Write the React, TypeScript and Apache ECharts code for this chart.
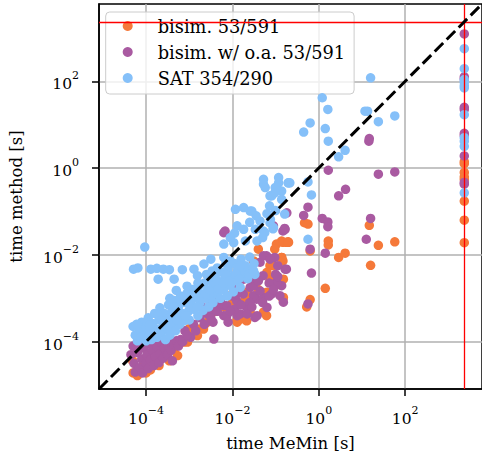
import React, { useEffect, useRef } from "react";
import * as echarts from "echarts";

// All values are log10 of time in seconds.
const AXIS_MIN = -5.09;
const AXIS_MAX = 3.78;
const TIMEOUT = 3.37; // log10 of the timeout (red lines)
const TICKS = [-4, -2, 0, 2];

const SERIES_NAMES = ["bisim. 53/591", "bisim. w/ o.a. 53/591", "SAT 354/290"];
const COLORS = ["#F5793A", "#A95AA1", "#85C0F9"];

// bisim. (orange): [log10 MeMin time, log10 method time]
const bisimPts: number[][] = [
  [-4.3, -4.72], [-4.2, -4.78], [-4.31, -4.44], [-4.15, -4.7], [-4.0, -4.72], [-3.9, -4.65],
  [-3.7, -4.55], [-3.46, -4.44], [-3.35, -4.17], [-3.27, -4.32], [-3.12, -4.01], [-3.04, -4.01],
  [-2.81, -3.86], [-2.81, -3.71], [-2.9, -3.82], [-2.67, -3.71], [-2.66, -3.63], [-2.58, -3.55],
  [-2.51, -3.4], [-1.9, -3.52], [-1.89, -3.55], [-1.82, -3.48], [-1.67, -3.52], [-1.59, -3.32],
  [-1.28, -3.32], [-1.21, -3.4], [-0.83, -3.02], [-0.82, -2.98], [-1.2, -2.86], [-1.59, -2.94],
  [-1.66, -2.86], [-2.05, -2.94], [-0.82, -2.56], [-1.13, -2.56], [-1.44, -2.52], [-1.05, -2.25],
  [-1.13, -2.25], [-1.51, -2.14], [-0.86, -2.06], [-1.4, -1.87], [-0.86, -1.68], [-0.7, -1.71],
  [-0.75, -1.71], [-0.98, -1.75], [-3.6, -4.3], [-3.8, -4.4], [-4.05, -4.5], [-3.0, -3.7],
  [-2.4, -3.3], [-2.2, -3.2], [-2.0, -3.1], [-1.7, -3.0], [-1.4, -2.8], [-1.0, -2.7],
  [-1.2, -2.4], [-1.5, -2.6], [1.17, -1.32], [0.22, -1.68], [0.22, -1.77], [1.38, -1.78],
  [1.76, -1.7], [0.46, -2.06], [0.61, -1.96], [1.2, -2.24], [0.15, -2.77], [-0.2, -1.91],
  [-0.2, -3.03], [-0.28, -3.2], [-0.33, -1.26], [-0.25, -1.29], [-0.83, -1.71], [-0.71, -1.7],
  [-1.02, -1.87], [-0.86, -2.06], [-0.83, -2.14],
];
const bisimTimeouts = [0.15, 0.1, -0.1, -0.2, -0.26, -0.76, -1.2, -1.72];

// bisim. w/ o.a. (purple)
const bisimOaPts: number[][] = [
  [-4.35, -4.3], [-4.3, -4.1], [-4.28, -4.5], [-4.25, -4.7], [-4.2, -4.25], [-4.18, -4.05],
  [-4.15, -4.6], [-4.1, -4.4], [-4.08, -4.72], [-4.05, -4.15], [-4.0, -4.5], [-3.98, -4.3],
  [-3.95, -4.62], [-3.92, -4.05], [-3.9, -4.42], [-3.85, -4.2], [-3.82, -4.55], [-3.8, -4.0],
  [-3.78, -4.35], [-3.75, -4.12], [-3.7, -4.48], [-3.68, -4.28], [-3.65, -4.02], [-3.6, -4.38],
  [-3.58, -4.15], [-3.55, -3.98], [-3.5, -4.3], [-3.48, -4.1], [-3.45, -4.0], [-3.42, -4.2],
  [-3.39, -4.44], [-3.35, -4.05], [-3.3, -3.98], [-3.25, -4.1], [-3.2, -3.95], [-3.15, -4.0],
  [-2.97, -3.9], [-2.43, -3.94], [-3.1, -3.75], [-2.9, -3.6], [-2.75, -3.45], [-2.6, -3.35],
  [-2.58, -3.32], [-2.44, -3.29], [-2.3, -3.15], [-2.27, -3.09], [-2.2, -3.17], [-2.2, -3.4],
  [-2.13, -3.17], [-2.13, -3.4], [-1.9, -3.06], [-1.89, -3.4], [-1.82, -3.36], [-1.67, -3.21],
  [-1.66, -3.36], [-1.48, -3.44], [-1.43, -3.4], [-1.44, -3.02], [-1.51, -2.94], [-1.2, -3.21],
  [-1.28, -2.98], [-1.36, -2.83], [-1.59, -2.75], [-1.09, -2.9], [-0.9, -2.94], [-0.82, -3.09],
  [-0.86, -2.71], [-0.97, -2.67], [-0.98, -2.63], [-1.29, -2.48], [-1.51, -2.71], [-1.67, -2.4],
  [-1.51, -2.4], [-1.74, -2.56], [-1.97, -2.79], [-0.75, -2.33], [-0.78, -2.33], [-1.36, -2.17],
  [-1.21, -2.02], [-1.02, -2.06], [-1.28, -2.02], [-1.13, -2.1], [-0.83, -1.45], [-0.78, -1.41],
  [-1.05, -1.33], [-0.74, -1.03], [-2.17, -1.45], [-2.2, -1.49], [-2.0, -2.95], [-2.35, -2.95],
  [-2.5, -3.1], [-2.7, -3.2], [-1.6, -3.1], [-1.75, -2.9], [-1.0, -2.45], [-1.15, -2.65],
  [-0.95, -2.25], [-2.45, -3.55], [-2.1, -3.55], [-1.95, -3.25],
  [-3.05, -3.85], [-2.85, -3.75], [-2.65, -3.6], [-2.5, -3.45], [-2.35, -3.3], [-2.05, -3.3],
  [-1.8, -3.15], [-1.55, -3.2], [-1.3, -3.1], [-1.15, -2.95], [-1.4, -2.6], [-1.6, -2.55],
  [-1.9, -2.9], [-1.05, -2.8], [-0.95, -2.5],
  [0.62, -0.49], [0.46, -0.64], [-0.25, -0.9], [-0.35, -1.09], [0.08, -1.16], [0.21, -1.24],
  [0.21, -1.35], [1.2, -1.16], [1.1, -1.64], [-0.79, -1.39], [-0.2, -1.87], [0.15, -1.96],
  [-0.17, -2.42], [-0.25, -3.13], [0.22, -0.05], [1.16, 0.62], [1.17, 0.68], [1.38, -0.14],
  [1.76, -0.09],
];
const bisimOaTimeouts = [3.09, 2.1, 2.05, 1.4, 1.35, 0.8, 0.75, 0.28, -0.37, -0.33];

// SAT (light blue)
const satPts: number[][] = [
  [-4.3, -3.65], [-4.25, -3.85], [-4.2, -3.98], [-4.15, -3.72], [-4.1, -3.55], [-4.05, -3.85],
  [-4.0, -3.98], [-4.0, -3.68], [-3.95, -3.45], [-3.9, -3.78], [-3.88, -3.95], [-3.85, -3.58],
  [-3.8, -3.35], [-3.78, -3.7], [-3.75, -3.9], [-3.7, -3.5], [-3.68, -3.22], [-3.65, -3.8],
  [-3.6, -3.62], [-3.58, -3.35], [-3.55, -3.95], [-3.5, -3.48], [-3.5, -3.72], [-3.48, -3.15],
  [-3.45, -3.85], [-3.4, -3.3], [-3.4, -3.58], [-3.35, -3.05], [-3.32, -3.75], [-3.3, -3.42],
  [-3.25, -3.2], [-3.22, -3.6], [-3.2, -2.95], [-3.15, -3.35], [-3.12, -3.52], [-3.1, -3.1],
  [-3.05, -2.88], [-3.02, -3.3], [-3.0, -3.5], [-2.95, -3.05], [-2.92, -2.8], [-2.9, -3.25],
  [-2.85, -2.95], [-2.8, -3.4], [-2.78, -2.72], [-2.75, -3.1], [-2.7, -2.9], [-2.68, -3.28],
  [-2.65, -2.65], [-2.6, -3.0], [-2.58, -2.82], [-2.55, -3.2], [-2.5, -2.6], [-2.48, -2.95],
  [-2.45, -3.1], [-2.42, -2.75], [-2.4, -2.5], [-2.35, -2.9], [-2.3, -2.62], [-2.28, -3.0],
  [-2.25, -2.4], [-2.2, -2.8], [-2.18, -2.55], [-2.12, -2.95], [-2.1, -2.32], [-2.05, -2.7],
  [-2.0, -2.5], [-1.98, -2.85], [-1.95, -2.2], [-1.9, -2.6], [-1.88, -2.35], [-1.82, -2.75],
  [-1.8, -2.1], [-1.75, -2.45], [-1.7, -2.25], [-1.65, -2.55], [-1.6, -2.05], [-1.55, -2.35],
  [-1.5, -2.2], [-1.48, -2.45],
  [-4.22, -3.6], [-4.12, -3.9], [-3.98, -3.55], [-3.92, -3.62], [-3.82, -3.82], [-3.72, -3.38],
  [-3.62, -3.5], [-3.52, -3.6], [-3.42, -3.45], [-3.36, -3.2], [-3.28, -3.5], [-3.18, -3.1],
  [-3.08, -3.4], [-2.98, -3.2], [-2.88, -2.9], [-2.82, -3.2], [-2.72, -3.0], [-2.62, -2.9],
  [-2.52, -2.8], [-2.38, -2.68], [-2.32, -2.78], [-2.22, -2.65], [-2.15, -2.45], [-2.08, -2.6],
  [-1.92, -2.45], [-1.85, -2.55], [-1.72, -2.35], [-1.62, -2.45], [-2.6, -2.45], [-2.35, -2.3],
  [-2.15, -2.2], [-3.1, -2.95], [-3.45, -3.0],
  [-4.29, -2.33], [-4.19, -2.3], [-3.89, -2.33], [-3.75, -2.31], [-3.6, -2.33], [-3.46, -2.34],
  [-3.16, -2.34], [-2.89, -2.33], [-3.72, -2.56], [-3.35, -2.56], [-4.03, -1.82],
  [-3.3, -2.82], [-3.05, -2.72], [-2.8, -2.65], [-2.55, -2.5], [-2.5, -2.1], [-2.66, -2.21],
  [-2.81, -2.48], [-2.47, -2.37], [-2.2, -2.06], [-2.05, -2.14], [-1.82, -2.25], [-1.51, -2.37],
  [-2.2, -1.75], [-1.97, -1.72], [-1.7, -1.68], [-1.43, -1.68], [-1.89, -1.33], [-1.74, -1.41],
  [-1.47, -1.41], [-1.28, -1.45], [-1.05, -1.37], [-1.36, -1.22], [-1.93, -0.95], [-1.74, -0.91],
  [-1.55, -0.99], [-1.13, -0.64], [-1.28, -0.37], [-0.93, -0.34], [-1.24, -0.45], [-1.01, -0.45],
  [-1.09, -0.64], [-0.86, -0.53], [-0.86, -0.72], [-1.14, -0.87], [-0.7, -0.34], [-1.28, -0.26],
  [-0.93, -0.22], [-1.2, -1.05], [-1.0, -0.98], [-1.45, -1.1], [-1.6, -1.25], [-1.95, -1.5],
  [-2.05, -1.6], [-1.3, -1.6], [-1.12, -1.18], [-0.25, -1.64], [-0.17, -0.62], [-0.79, -1.06],
  [-1.06, -1.4], [-1.25, -1.49], [-1.02, -0.57], [-0.71, -0.34], [-1.13, -1.26], [-1.59, -0.99],
  [-0.25, -0.32], [-0.67, -0.34],
  [1.2, 2.08], [0.08, 1.62], [0.21, 1.35], [-0.2, 1.04], [-0.35, 0.83], [0.15, 0.91],
  [0.22, 0.62], [0.61, 0.41], [0.46, 0.26], [1.13, 1.31], [1.07, 1.31], [1.38, 1.07], [1.76, 1.2],
];
const satTimeouts = [2.75, 2.29, 2.04, 1.98, 1.9, 1.85, 1.23, 0.7, 0.62, 0.5, -0.57];

const FONT = "'DejaVu Serif', 'Liberation Serif', serif";

function tickLabel(v: number): string {
  const e = Math.round(v);
  const s = e < 0 ? "\u2212" + Math.abs(e) : String(e);
  return "{b|10}{s|" + s + "}";
}

const labelRich = {
  b: { fontFamily: FONT, fontSize: 15.5, color: "#000", lineHeight: 22, verticalAlign: "bottom" },
  s: { fontFamily: FONT, fontSize: 11, color: "#000", lineHeight: 12, verticalAlign: "top" },
};

function makeAxis(name: string, nameGap: number, margin: number) {
  return {
    type: "value",
    min: AXIS_MIN,
    max: AXIS_MAX,
    name,
    nameLocation: "middle",
    nameGap,
    nameTextStyle: { fontFamily: FONT, fontSize: 16.5, color: "#000" },
    axisLine: { show: true, onZero: false, lineStyle: { color: "#000", width: 1.5 } },
    axisTick: { show: true, length: 7, customValues: TICKS, lineStyle: { color: "#000", width: 1.5 } },
    axisLabel: {
      show: true,
      customValues: TICKS,
      formatter: tickLabel,
      fontFamily: FONT,
      rich: labelRich,
      margin,
    },
    splitLine: { show: true, lineStyle: { color: "#b0b0b0", width: 1.5 } },
  };
}

export default function App() {
  const ref = useRef<HTMLDivElement>(null);
  useEffect(() => {
    document.body.style.margin = "0";
    const chart = echarts.init(ref.current!, null, { renderer: "svg" });
    const toTimeout = (ys: number[]) => ys.map((y) => [TIMEOUT, y]);
    const option: any = {
      animation: false,
      backgroundColor: "#fff",
      textStyle: { fontFamily: FONT },
      grid: {
        left: 97.7,
        top: 4,
        width: 386,
        height: 386,
        show: true,
        borderColor: "#000",
        borderWidth: 1.5,
        backgroundColor: "transparent",
      },
      xAxis: makeAxis("time MeMin [s]", 46, 16),
      yAxis: makeAxis("time method [s]", 74, 20),
      legend: {
        orient: "vertical",
        left: 105.7,
        top: 12,
        padding: [5, 9, 7, 17],
        itemGap: 8,
        itemWidth: 10,
        itemHeight: 10,
        icon: "circle",
        backgroundColor: "rgba(255,255,255,0.8)",
        borderColor: "#cccccc",
        borderWidth: 1,
        borderRadius: 4,
        formatter: (n: string) => "{t|" + n + "}",
        textStyle: {
          fontFamily: FONT,
          fontSize: 17.8,
          color: "#000",
          rich: {
            t: { fontFamily: FONT, fontSize: 17.8, color: "#000", lineHeight: 16, padding: [0, 0, 0, 20] },
          },
        },
        data: SERIES_NAMES,
      },
      series: [
        {
          type: "line",
          data: [],
          z: 1,
          silent: true,
          markLine: {
            silent: true,
            symbol: "none",
            label: { show: false },
            lineStyle: { color: "#ff0000", width: 1.3, type: "solid" },
            data: [{ xAxis: TIMEOUT }, { yAxis: TIMEOUT }],
          },
        },
        {
          name: SERIES_NAMES[0],
          type: "scatter",
          z: 2,
          symbolSize: 9.5,
          itemStyle: { color: COLORS[0], opacity: 1 },
          data: [...bisimPts, ...toTimeout(bisimTimeouts)],
        },
        {
          name: SERIES_NAMES[1],
          type: "scatter",
          z: 3,
          symbolSize: 9.5,
          itemStyle: { color: COLORS[1], opacity: 1 },
          data: [...bisimOaPts, ...toTimeout(bisimOaTimeouts)],
        },
        {
          name: SERIES_NAMES[2],
          type: "scatter",
          z: 4,
          symbolSize: 9.5,
          itemStyle: { color: COLORS[2], opacity: 1 },
          data: [...satPts, ...toTimeout(satTimeouts)],
        },
        {
          type: "line",
          z: 5,
          silent: true,
          symbol: "none",
          lineStyle: { color: "#000", width: 3, type: [12, 5] },
          data: [
            [AXIS_MIN, AXIS_MIN],
            [AXIS_MAX, AXIS_MAX],
          ],
        },
      ],
    };
    chart.setOption(option);
    return () => chart.dispose();
  }, []);
  return <div ref={ref} style={{ width: 482, height: 457 }} />;
}
